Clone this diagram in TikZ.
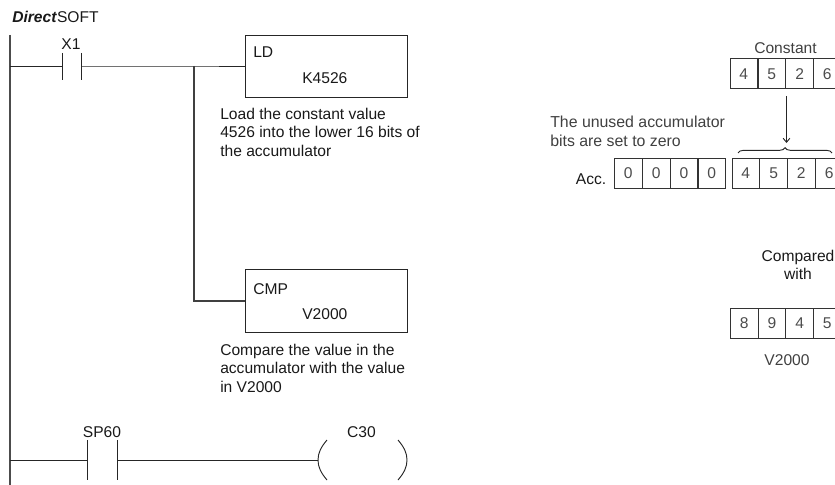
\documentclass[tikz,border=0pt]{standalone}
\usepackage{fontspec}
\setmainfont{Liberation Sans}
\usetikzlibrary{decorations.pathreplacing,arrows.meta}
\tikzset{
  lbl/.style={inner sep=0pt,font=\fontsize{11.7}{13.7}\selectfont,text=black!90},
  graylbl/.style={lbl,text=black!75},
  rail/.style={line width=0.9pt,draw=black!70},
  wire/.style={line width=0.7pt,draw=black!85},
  fbox/.style={draw=black!85,line width=0.8pt,inner sep=0pt},
  cell/.style={draw=black!80,line width=0.75pt,inner sep=0pt,minimum width=27.6*0.75pt,minimum height=29.5*0.75pt,font=\fontsize{11.7}{13}\selectfont,text=black!70},
}
\begin{document}
\begin{tikzpicture}[x=0.75pt,y=-0.75pt]
\useasboundingbox (0,0) rectangle (835,485);
\node[lbl,anchor=base west] (title) at (12,23) {\textbf{\textit{Direct}}SOFT};
% rails
\coordinate (railT) at (10,35);
\coordinate (railB) at (10,485);
\draw[rail] (railT) -- (railB);
% rung 1
\coordinate (r1) at (10,66);
\coordinate (c1a) at (62,66);
\coordinate (c1b) at (81,66);
\coordinate (j1) at (194,66);
\node[fbox,minimum width=162*0.75pt,minimum height=62*0.75pt,anchor=north west] (ld) at (245,35) {};
\draw[wire] (r1) -- (c1a);
\draw[wire] (c1b) -- (j1) -- (ld.west |- j1);
\draw[wire] (62,53) -- (62,80);
\draw[wire] (81,53) -- (81,80);
\node[lbl,anchor=base] (x1) at (71,50) {X1};
\node[lbl,anchor=base west] (ldt) at (253,58) {LD};
\node[lbl,anchor=base west] (k) at (302,84) {K4526};
\node[lbl,anchor=north west,align=left] (t1) at (220,108) {Load the constant value\\4526 into the lower 16 bits of\\the accumulator};
% branch
\node[fbox,minimum width=162*0.75pt,minimum height=63*0.75pt,anchor=north west] (cmp) at (245,269) {};
\coordinate (j2) at (194,301);
\draw[wire,draw=black!75,line width=0.8pt] (j1) -- (j2) -- (cmp.west |- j2);
\node[lbl,anchor=base west] (cmpt) at (253,294) {CMP};
\node[lbl,anchor=base west] (v) at (302,319) {V2000};
\node[lbl,anchor=north west,align=left] (t2) at (220,344) {Compare the value in the\\accumulator with the value\\in V2000};
% rung 2
\coordinate (r2) at (10,460);
\coordinate (c2a) at (87,460);
\coordinate (c2b) at (117,460);
\coordinate (coil) at (318,460);
\draw[wire] (r2) -- (c2a);
\draw[wire] (c2b) -- (coil);
\draw[wire] (87,440) -- (87,480);
\draw[wire] (117,440) -- (117,480);
\node[lbl,anchor=base] (sp) at (102,437) {SP60};
\node[lbl,anchor=base] (c30) at (361.5,437) {C30};
\draw[wire] (327,440) .. controls (321,447) and (318,453) .. (coil) .. controls (318,467) and (321,473) .. (327,480);
\draw[wire] (398,440) .. controls (404,447) and (407,453) .. (407,460) .. controls (407,467) and (404,473) .. (398,480);
% constant
\node[graylbl,anchor=base] (const) at (785.5,53.5) {Constant};
\foreach \n/\x/\t in {a/729.5/4,b/757.5/5,c/785.3/2,d/813/6}
  \node[cell,anchor=north west] (k\n) at (\x,58.5) {\t};
% arrow
\coordinate (arrE) at (786.5,143);
\draw[wire,-{Straight Barb[length=3pt,width=5pt]}] (786.5,96) -- (arrE);
\draw[wire,decorate,decoration={brace,amplitude=4pt}] (738,153) -- (832,153);
\node[graylbl,font=\fontsize{11.9}{14.2}\selectfont,anchor=north west,align=left] (t3) at (550,115.5) {The unused accumulator\\bits are set to zero};
\node[lbl,anchor=base east] (acc) at (606.5,184.5) {Acc.};
\foreach \n/\x/\t in {a/614/0,b/642/0,c/669.6/0,d/697.5/0}
  \node[cell,anchor=north west] (z\n) at (\x,158) {\t};
\foreach \n/\x/\t in {a/731.5/4,b/759.3/5,c/787/2,d/814.8/6}
  \node[cell,anchor=north west] (y\n) at (\x,158) {\t};
% compared
\node[lbl,anchor=base] (cw1) at (798,261.5) {Compared};
\node[lbl,anchor=base] (cw2) at (798,279.5) {with};
\foreach \n/\x/\t in {a/730/8,b/757.7/9,c/785.4/4,d/813/5}
  \node[cell,anchor=north west] (m\n) at (\x,308) {\t};
\node[graylbl,anchor=base] (vv) at (787,365) {V2000};
\end{tikzpicture}
\end{document}
